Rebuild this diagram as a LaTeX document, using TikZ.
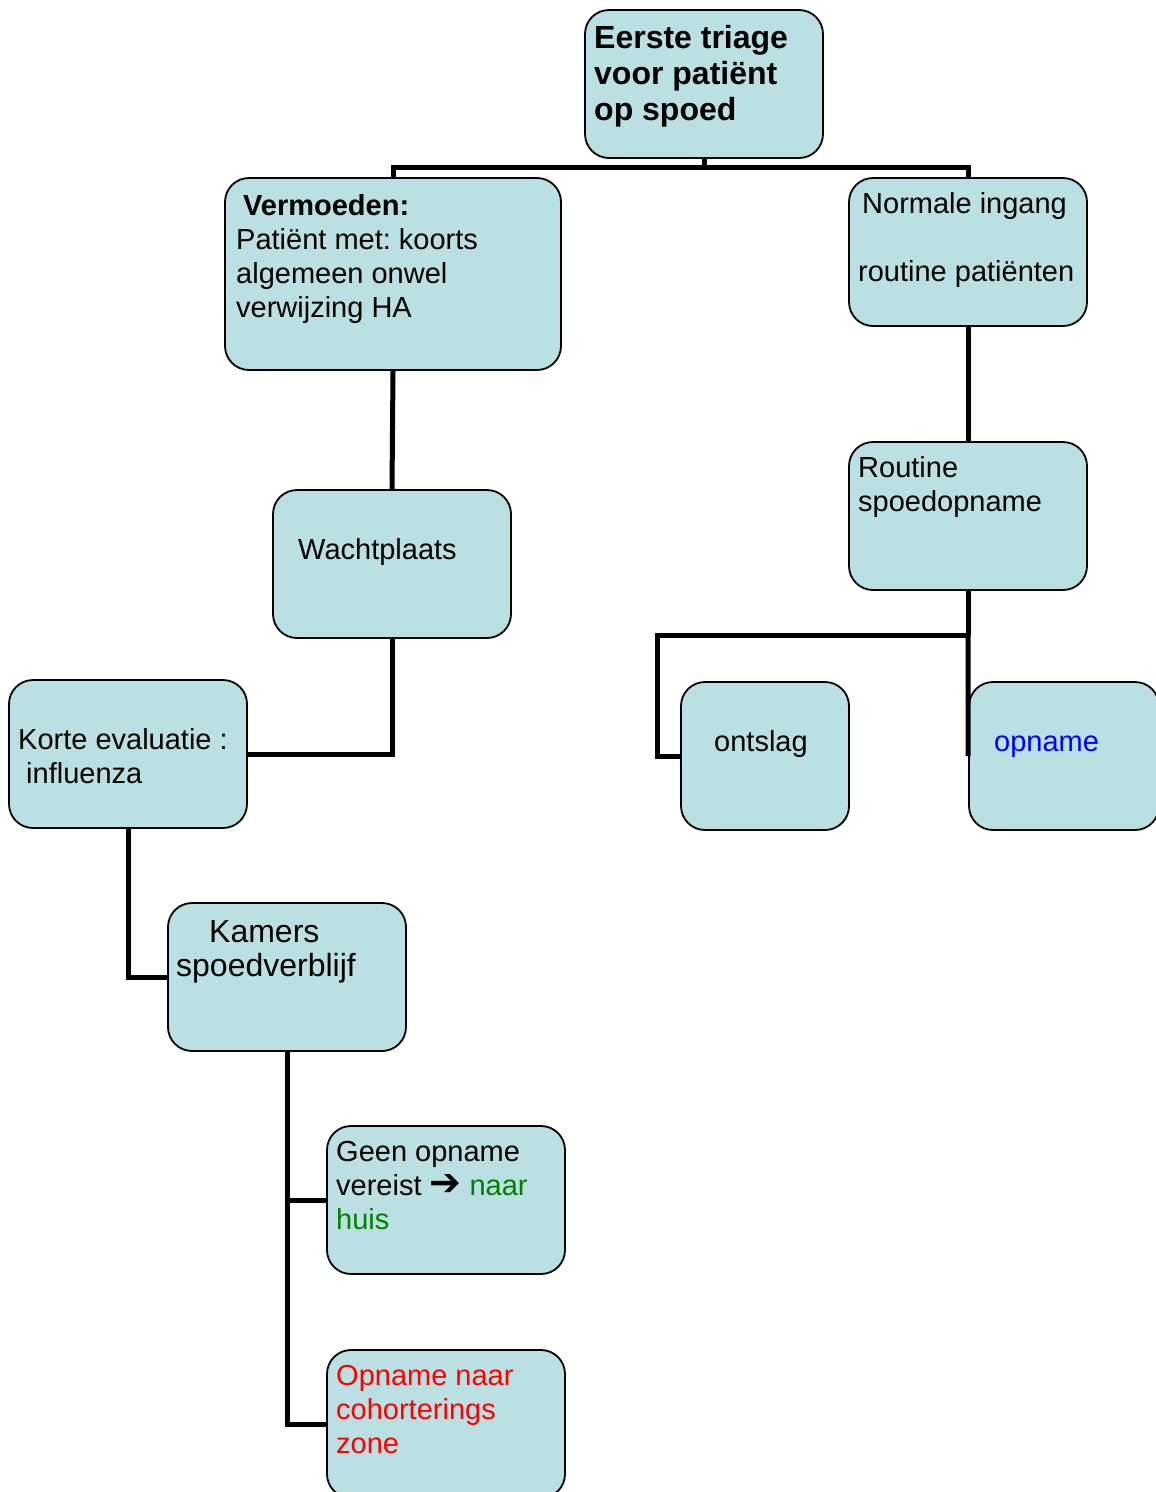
\documentclass[tikz,border=0pt]{standalone}
\usepackage{fontspec}
\setmainfont{Liberation Sans}
\newfontfamily\symfont{DejaVu Sans}
\definecolor{boxfill}{HTML}{BAE0E3}
\definecolor{txtgreen}{HTML}{008000}
\definecolor{txtred}{HTML}{FF0000}
\definecolor{txtblue}{HTML}{0000FF}
\frenchspacing
\begin{document}
\begin{tikzpicture}[x=1pt,y=-1pt,
  box/.style={draw=black, line width=1.8pt, fill=boxfill, rounded corners=24pt, inner sep=0pt, minimum width=238pt, minimum height=148pt},
  conn/.style={line width=5pt, draw=black},
  txt/.style={anchor=north west, inner sep=0pt, align=left, font=\fontsize{29}{34}\selectfont},
  btxt/.style={anchor=north west, inner sep=0pt, align=left, font=\bfseries\fontsize{29}{34}\selectfont},
  bigtxt/.style={anchor=north west, inner sep=0pt, align=left, font=\bfseries\fontsize{32}{36}\selectfont},
  largetxt/.style={anchor=north west, inner sep=0pt, align=left, font=\fontsize{32}{35}\selectfont}]
\useasboundingbox (0,0) rectangle (1156,1492);
\clip (0,0) rectangle (1156,1492);
\fill[white] (0,0) rectangle (1156,1492);
% boxes
\node[box] (tri) at (704,84) {};
\node[box, minimum width=336pt, minimum height=192pt] (verm) at (393,274) {};
\node[box] (norm) at (968,252) {};
\node[box] (wacht) at (392,564) {};
\node[box] (rout) at (968,516) {};
\node[box] (korte) at (128,754) {};
\node[box, minimum width=168pt] (ontslag) at (765,756) {};
\node[box, minimum width=190pt] (opn) at (1064,756) {};
\node[box] (kam) at (287,977) {};
\node[box] (geen) at (446,1200) {};
\node[box] (coh) at (446,1424) {};
% texts
\node[bigtxt] (ttri) at (594,22.8) {\strut Eerste triage\\voor patiënt\\op spoed};
\node[btxt] (tverm1) at (243,191.2) {\strut Vermoeden:};
\node[txt] (tverm2) at (236,225.2) {\strut Patiënt met: koorts\\algemeen onwel\\verwijzing HA};
\node[txt] (tnorm1) at (862,189.2) {\strut Normale ingang};
\node[txt] (tnorm2) at (858,257.2) {\strut routine patiënten};
\node[txt] (twacht) at (298,535.2) {\strut Wachtplaats};
\node[txt] (trout) at (858,453.2) {\strut Routine\\spoedopname};
\node[txt] (tkorte1) at (18,725.2) {\strut Korte evaluatie :};
\node[txt] (tkorte2) at (26,759.2) {\strut influenza};
\node[txt] (tontslag) at (714,727.2) {\strut ontslag};
\node[txt, text=txtblue] (topn) at (994,727.2) {\strut opname};
\node[largetxt] (tkam1) at (209,917.5) {\strut Kamers};
\node[largetxt] (tkam2) at (176,951.5) {\strut spoedverblijf};
\node[txt] (tgeen) at (336,1137.2) {\strut Geen opname\\vereist {\symfont\bfseries\fontsize{38}{34}\selectfont ➔} \textcolor{txtgreen}{naar}\\\textcolor{txtgreen}{huis}};
\node[txt, text=txtred] (tcoh) at (336,1361.2) {\strut Opname naar\\cohorterings\\zone};
% connectors
\coordinate (j1) at (704,167);
\coordinate (j2) at (968,635);
\draw[conn] (tri.south) -- (j1);
\draw[conn] (verm.north) |- (j1) -| (norm.north);
\draw[conn] (verm.south) -- (wacht.north);
\draw[conn] (norm.south) -- (rout.north);
\draw[conn] (rout.south) -- (j2);
\draw[conn] (j2) -| (657,756) -- (ontslag.west);
\draw[conn] (j2) -- (opn.west);
\draw[conn] (wacht.south) |- (korte.east);
\draw[conn] (korte.south) |- (kam.west);
\draw[conn] (kam.south) |- (geen.west);
\draw[conn] (kam.south) |- (coh.west);
\end{tikzpicture}
\end{document}
